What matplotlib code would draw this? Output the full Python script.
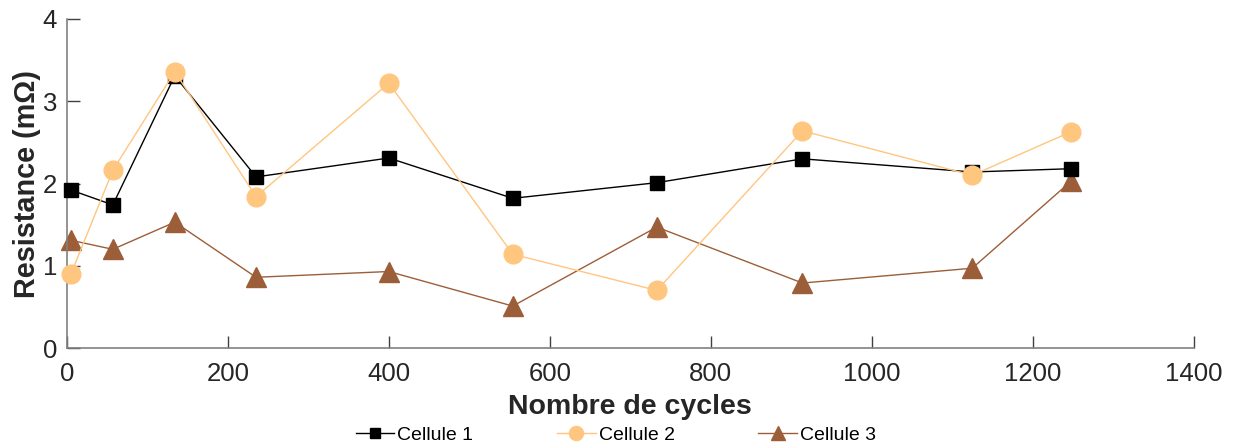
import matplotlib
matplotlib.use("Agg")
import matplotlib.pyplot as plt

plt.rcParams['font.family'] = ['Liberation Sans', 'DejaVu Sans']

cycles1 = [5, 57, 134, 235, 400, 554, 733, 914, 1125, 1248]
cell1 = [1.92, 1.74, 3.31, 2.08, 2.31, 1.82, 2.01, 2.30, 2.14, 2.18]
cell2 = [0.90, 2.16, 3.36, 1.84, 3.22, 1.14, 0.70, 2.64, 2.10, 2.63]
cell3 = [1.31, 1.20, 1.53, 0.86, 0.93, 0.51, 1.47, 0.79, 0.97, 2.03]
labels = ['Cellule 1', 'Cellule 2', 'Cellule 3']
xticks = [0, 200, 400, 600, 800, 1000, 1200, 1400]
yticks = [0, 1, 2, 3, 4]

fig = plt.figure(figsize=(12.33, 4.46), dpi=100)
ax = fig.add_axes([0.0543, 0.2197, 0.9137, 0.7377])

txt = '#262626'
ax.plot(cycles1, cell1, color='black', lw=1.0, marker='s', ms=10, mfc='black', mec='black', label=labels[0], zorder=3)
ax.plot(cycles1, cell2, color='#FFC67F', lw=1.0, marker='o', ms=13.5, mfc='#FFC67F', mec='#FFC67F', label=labels[1], zorder=4)
ax.plot(cycles1, cell3, color='#9C5E38', lw=1.0, marker='^', ms=14, mfc='#9C5E38', mec='#9C5E38', label=labels[2], zorder=2)

ax.set_xlim(0, 1400)
ax.set_ylim(0, 4)
ax.set_xticks(xticks)
ax.set_yticks(yticks)
for s in ['top', 'right']:
    ax.spines[s].set_visible(False)
for s in ['left', 'bottom']:
    ax.spines[s].set_color('#808080')
    ax.spines[s].set_linewidth(1.2)
ax.tick_params(direction='in', length=9, width=1, colors='#404040', labelsize=18.5, labelcolor=txt)
ax.tick_params(axis='y', pad=7)
ax.tick_params(axis='x', pad=10)
ax.set_xlabel('Nombre de cycles', fontsize=20.5, fontweight='bold', color=txt, labelpad=6)
ax.set_ylabel('Resistance (m\u03a9)', fontsize=20.8, fontweight='bold', color=txt, labelpad=1)
for l in ax.lines:
    l.set_clip_on(False)

leg = fig.legend(loc='center', bbox_to_anchor=(0.4995, 0.024), ncol=3, frameon=False,
                 fontsize=14, handlelength=2.0, handletextpad=0.15, columnspacing=4.3,
                 markerscale=0.75, labelcolor='black')

fig.savefig('out.png', dpi=100)
